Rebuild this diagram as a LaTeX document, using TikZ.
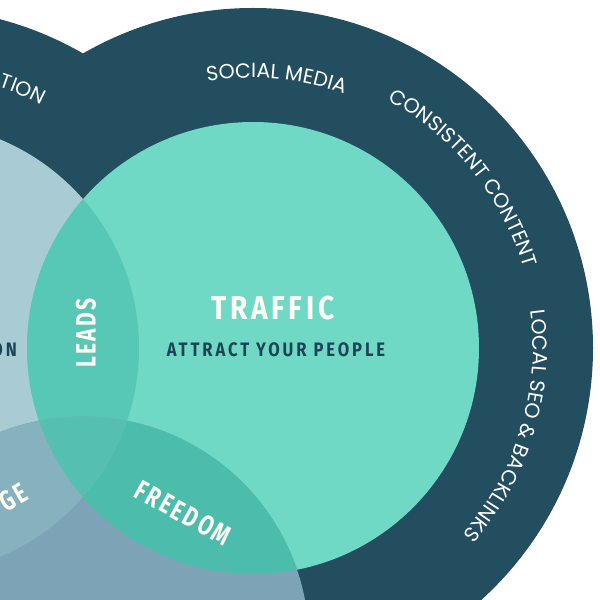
\documentclass[tikz,border=0pt]{standalone}
\usepackage{fontspec}
\usetikzlibrary{decorations.text,calc}
\newfontfamily\ringfont{Poppins}
\newfontfamily\bebasfont[FakeStretch=0.85]{Fira Sans}
\newfontfamily\lensfont[FakeStretch=0.75]{Fira Sans}
\definecolor{ringdark}{HTML}{224E5F}
\definecolor{tealmain}{HTML}{6FD9C5}
\definecolor{lightblue}{HTML}{A8CBD4}
\definecolor{bluegray}{HTML}{7DA3B6}
\definecolor{leadscol}{HTML}{58C8B6}
\definecolor{freedomcol}{HTML}{4CBDAD}
\definecolor{gecol}{HTML}{86B2BF}
\definecolor{triplecol}{HTML}{55C0B1}
\definecolor{navytext}{HTML}{1D4356}
\definecolor{cream}{HTML}{FFFDF3}
\tikzset{
  titlelabel/.style={font=\bebasfont\bfseries\fontsize{33}{33}\selectfont\addfontfeature{LetterSpace=11}, text=cream, inner sep=0pt},
  sublabel/.style={font=\bebasfont\bfseries\fontsize{19.5}{19.5}\selectfont\addfontfeature{LetterSpace=15}, text=navytext, inner sep=0pt},
  lenslabel/.style={font=\lensfont\bfseries\fontsize{28}{28}\selectfont\addfontfeature{LetterSpace=9}, text=cream, inner sep=0pt},
  ringtext/.style={decorate, decoration={text along path, text align=center, text color=white, text={#1}}}
}
\newcommand{\rfmt}{\ringfont\fontsize{20.5}{21}\selectfont}
\begin{document}
\begin{tikzpicture}[x=1pt,y=1pt]
\useasboundingbox (0,0) rectangle (600,600);
\clip (0,0) rectangle (600,600);
\coordinate (R) at (253,252);
\coordinate (L) at (-87,252);
\coordinate (B) at (83,-42.4);
% outer rings
\fill[ringdark] (L) circle[radius=340pt];
\fill[ringdark] (R) circle[radius=340pt];
% inner circles
\fill[lightblue] (L) circle[radius=226pt];
\fill[tealmain] (R) circle[radius=226pt];
\fill[bluegray] (B) circle[radius=226pt];
% overlaps
\begin{scope}
  \clip (L) circle[radius=226pt];
  \fill[leadscol] (R) circle[radius=226pt];
\end{scope}
\begin{scope}
  \clip (R) circle[radius=226pt];
  \fill[freedomcol] (B) circle[radius=226pt];
\end{scope}
\begin{scope}
  \clip (L) circle[radius=226pt];
  \fill[gecol] (B) circle[radius=226pt];
\end{scope}
\begin{scope}
  \clip (L) circle[radius=226pt];
  \clip (R) circle[radius=226pt];
  \fill[triplecol] (B) circle[radius=226pt];
\end{scope}
% ring texts
\path[ringtext={|\rfmt|SOCIAL MEDIA}] ($(R)+(120:270pt)$) arc[start angle=120, end angle=50, radius=270pt];
\path[ringtext={|\rfmt|CONSISTENT CONTENT}] ($(R)+(79:282pt)$) arc[start angle=79, end angle=-1, radius=282pt];
\path[ringtext={|\rfmt|LOCAL SEO {\&} BACKLINKS}] ($(R)+(28:280pt)$) arc[start angle=28, end angle=-62, radius=280pt];
\path[ringtext={|\rfmt|TION}] ($(L)+(87:275pt)$) arc[start angle=87, end angle=47, radius=275pt];
% labels
\node[titlelabel] (traffic) at (273,292) {TRAFFIC};
\node[sublabel] (attract) at (276,250) {ATTRACT YOUR PEOPLE};
\node[lenslabel, rotate=90] (leads) at (86,267) {LEADS};
\node[lenslabel, rotate=-29] (freedom) at (183,87) {FREEDOM};
\node[lenslabel, rotate=30] (ge) at (13,103) {GE};
\node[sublabel, anchor=east] (on) at (17,250) {ON};
\end{tikzpicture}
\end{document}
